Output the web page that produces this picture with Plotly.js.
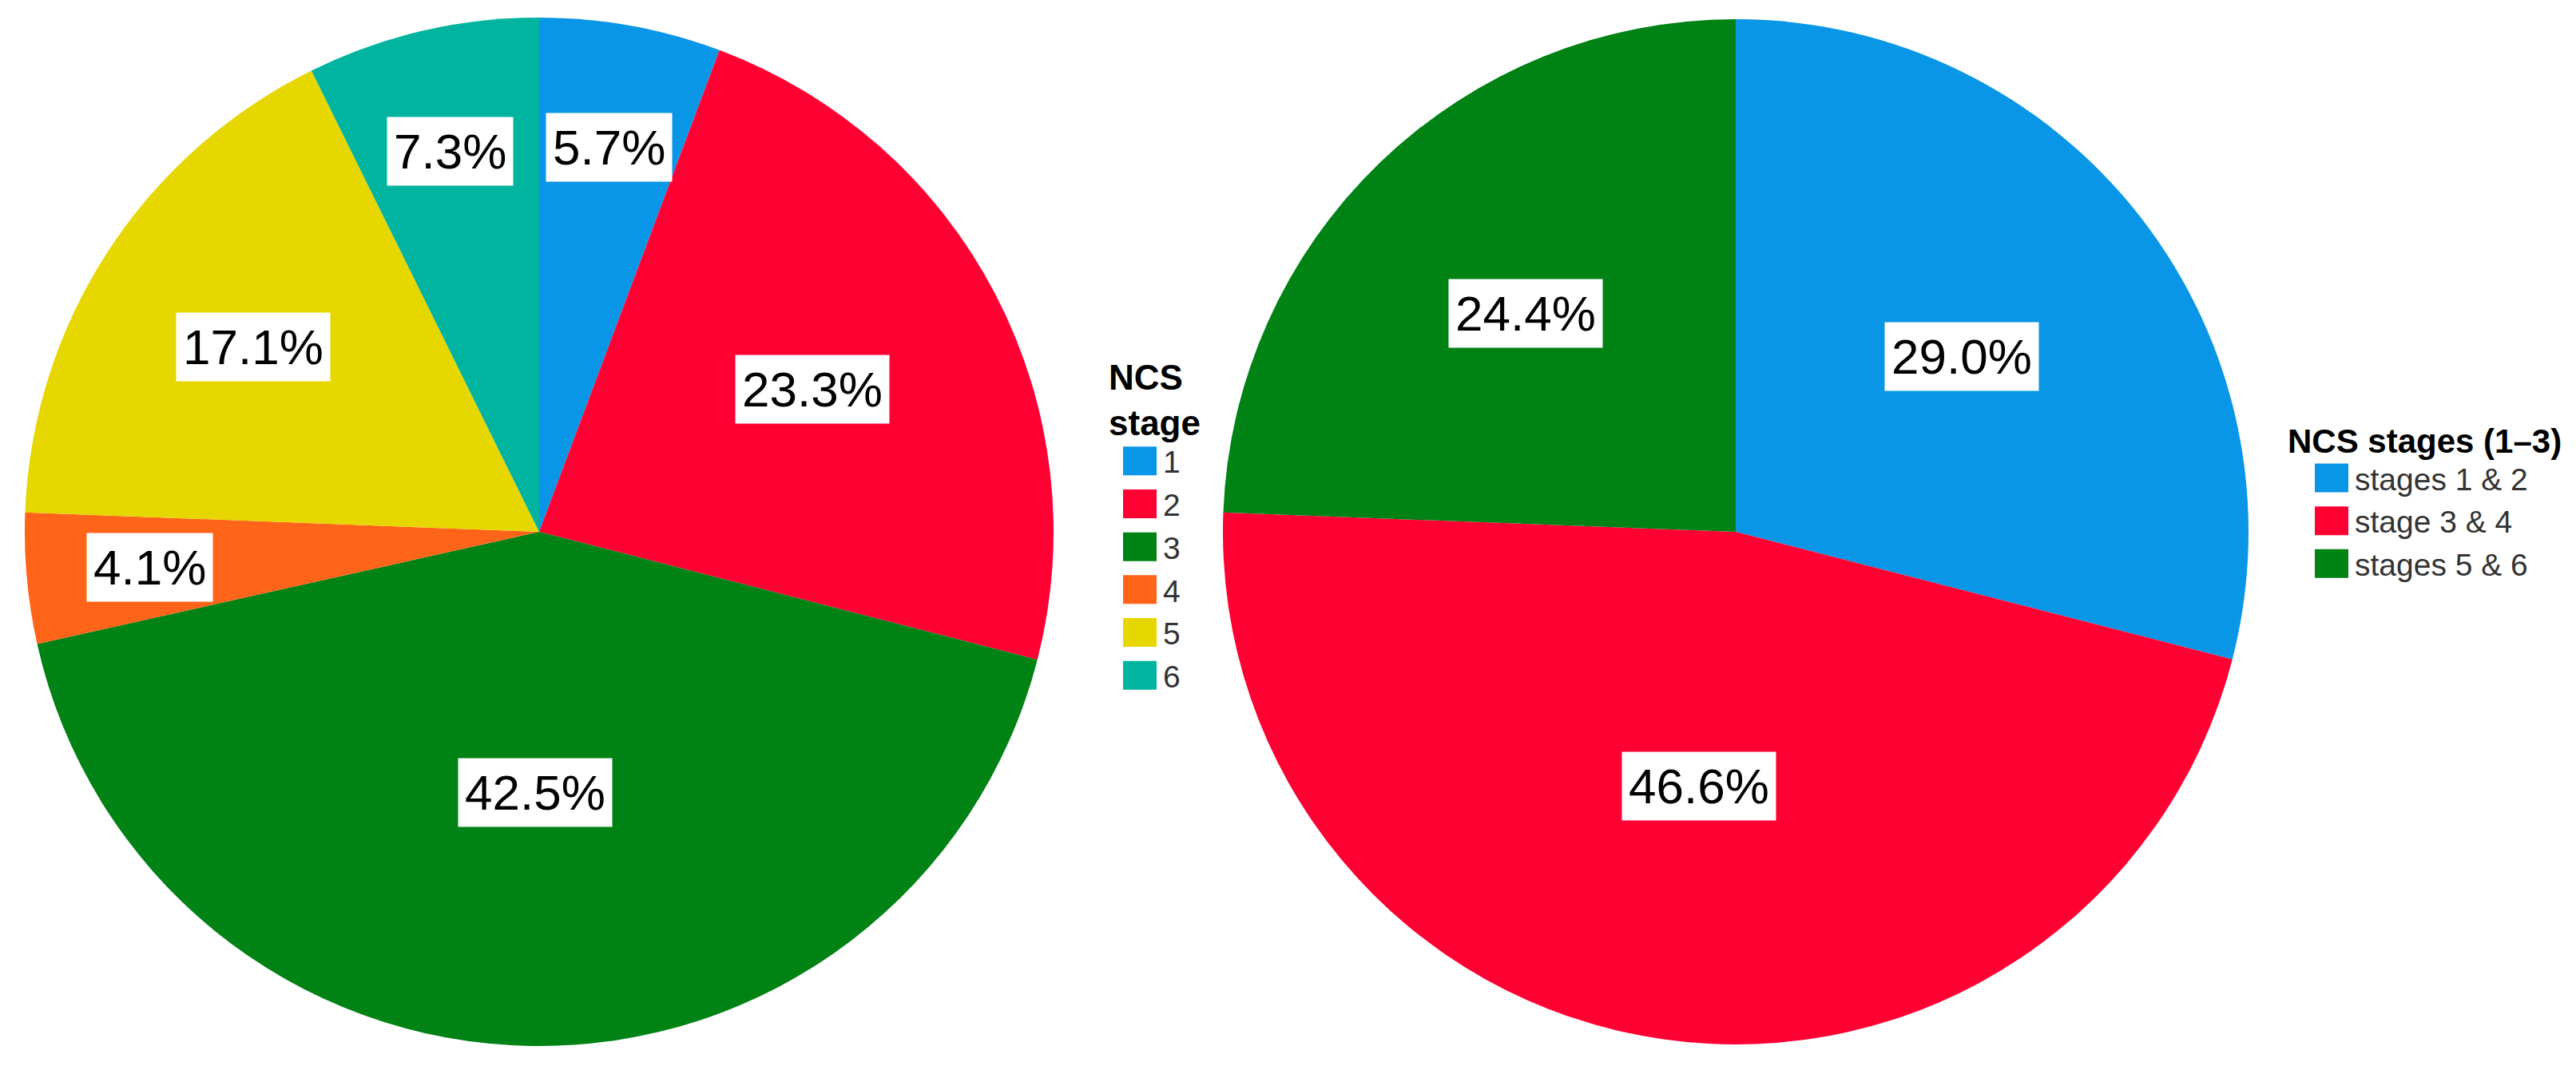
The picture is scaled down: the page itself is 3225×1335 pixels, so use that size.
<!DOCTYPE html>
<html><head><meta charset="utf-8">
<script src="https://cdn.plot.ly/plotly-3.0.1.min.js"></script>
<style>html,body{margin:0;padding:0;background:#fff;}#chart{width:3225px;height:1335px;}</style>
</head><body><div id="chart"></div>
<script>
const stageLabels = ['1','2','3','4','5','6'];
const stagePercents = [5.7, 23.3, 42.5, 4.1, 17.1, 7.3];
const groupLabels = ['stages 1 & 2','stage 3 & 4','stages 5 & 6'];
const groupPercents = [29.0, 46.6, 24.4];
const stageColors = ['#0A96E6','#FF0033','#008214','#FF6419','#E6D700','#00B4A0'];
const groupColors = ['#0A96E6','#FF0033','#008214'];

const W = 3225, H = 1335;
const FONT = 'Liberation Sans, Arial, sans-serif';
const leftDomain = {x:[31/W, 1319/W], y:[25/H, 1313/H]};
const rightDomain = {x:[1531/W, 2815/W], y:[27/H, 1311/H]};

function sliceLabels(values, dom){
  const cx = (dom.x[0]+dom.x[1])/2*W, cy = (dom.y[0]+dom.y[1])/2*H;
  const r = Math.min((dom.x[1]-dom.x[0])*W, (dom.y[1]-dom.y[0])*H)/2;
  const total = values.reduce((a,b)=>a+b,0);
  let cum = 0; const out = [];
  values.forEach(v=>{
    const frac = v/total;
    const mid = (cum + frac/2)*2*Math.PI; cum += frac;
    const s = Math.sin(Math.min(frac*Math.PI, Math.PI/2));
    const rIns = s/(1+s);
    const rf = Math.min(1 - rIns, 0.76);
    out.push({xref:'paper', yref:'paper',
      x:(cx + rf*r*Math.sin(mid))/W, y:(cy + rf*r*Math.cos(mid))/H,
      text: v.toFixed(1)+'%', showarrow:false, bgcolor:'#ffffff', borderpad:8,
      xanchor:'center', yanchor:'middle',
      font:{family:FONT, size:62, color:'#000'}});
  });
  return out;
}

const traces = [
  {type:'pie', labels:stageLabels, values:stagePercents, sort:false, direction:'clockwise', rotation:0,
   marker:{colors:stageColors, line:{width:0}}, textinfo:'none', hoverinfo:'label+percent',
   domain:leftDomain, legend:'legend'},
  {type:'pie', labels:groupLabels, values:groupPercents, sort:false, direction:'clockwise', rotation:0,
   marker:{colors:groupColors, line:{width:0}}, textinfo:'none', hoverinfo:'label+percent',
   domain:rightDomain, legend:'legend2'}
];

const layout = {
  width:W, height:H, margin:{l:0,r:0,t:0,b:0,pad:0,autoexpand:false}, paper_bgcolor:'#fff',
  font:{family:FONT},
  showlegend:true,
  legend:{x:1386/W, xanchor:'left', y:1-431/H, yanchor:'top', bgcolor:'rgba(0,0,0,0)',
    itemwidth:48, tracegroupgap:0, traceorder:'normal', indentation:12,
    title:{text:'NCS<br>stage', side:'top center', font:{family:FONT, size:44, color:'#000', weight:700}},
    font:{family:FONT, size:39, color:'#333'}},
  legend2:{x:2862/W, xanchor:'left', y:1-512/H, yanchor:'top', bgcolor:'rgba(0,0,0,0)',
    itemwidth:48, tracegroupgap:0, traceorder:'normal', indentation:28,
    title:{text:'NCS stages (1–3)', side:'top', font:{family:FONT, size:42, color:'#000', weight:700}},
    font:{family:FONT, size:39, color:'#333'}},
  annotations: sliceLabels(stagePercents, leftDomain).concat(sliceLabels(groupPercents, rightDomain))
};

function bigSwatches(){
  document.querySelectorAll('#chart .legendpoints path.legendpie').forEach(p=>{
    p.setAttribute('d','M21,18H-21V-18H21Z');
  });
}
const gd = document.getElementById('chart');
Plotly.newPlot(gd, traces, layout, {displayModeBar:false, staticPlot:true}).then(()=>{
  bigSwatches();
  gd.on('plotly_afterplot', bigSwatches);
});
</script>
</body></html>
